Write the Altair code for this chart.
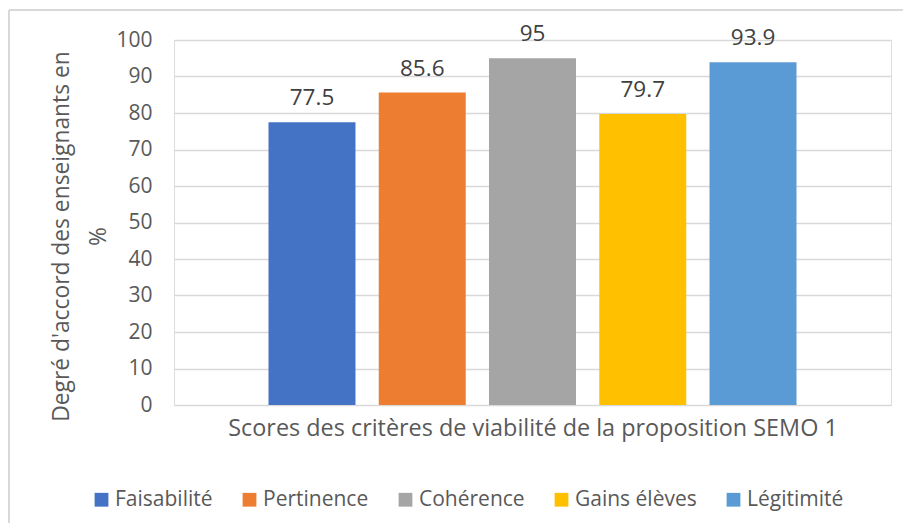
import altair as alt
import pandas as pd

series = ["Faisabilité", "Pertinence", "Cohérence", "Gains élèves", "Légitimité"]
values = [77.5, 85.6, 95, 79.7, 93.9]
labels = ["77.5", "85.6", "95", "79.7", "93.9"]
colors = ["#4472C4", "#ED7D31", "#A5A5A5", "#FFC000", "#5B9BD5"]
y_ticks = [0, 10, 20, 30, 40, 50, 60, 70, 80, 90, 100]

df = pd.DataFrame({"serie": series, "valeur": values, "label": labels})

FONT = "Open Sans"
W, H = 717, 365

x_enc = alt.X(
    "serie:N",
    sort=series,
    scale=alt.Scale(paddingInner=0.211, paddingOuter=0.857),
    axis=alt.Axis(
        labels=False, ticks=False, domain=False, grid=False,
        title="Scores des critères de viabilité de la proposition SEMO 1",
        titleFont=FONT, titleFontSize=23.4, titleFontWeight="normal",
        titleColor="#595959", titleBaseline="alphabetic", titleY=30,
    ),
)

y_axis = alt.Axis(
    values=y_ticks, ticks=False, domain=False,
    labelOverlap=False,
    gridColor="#D9D9D9", gridWidth=1.3,
    labelFont=FONT, labelFontSize=21, labelColor="#595959", labelPadding=22,
    title=["Degré d'accord des enseignants en", "%"],
    titleFont=FONT, titleFontSize=22.8, titleFontWeight="normal",
    titleColor="#595959", titleX=-124, titleY=196, titleAngle=270,
    titleAlign="center", titleBaseline="top", titleLineHeight=37,
)
y_scale = alt.Scale(domain=[0, 100], nice=False)

bars = alt.Chart(df).mark_bar().encode(
    x=x_enc,
    y=alt.Y("valeur:Q", scale=y_scale, axis=y_axis),
    color=alt.Color(
        "serie:N",
        sort=series,
        scale=alt.Scale(domain=series, range=colors),
        legend=alt.Legend(
            title=None, orient="none", legendX=-83, legendY=449,
            direction="horizontal", columns=5, columnPadding=26,
            symbolType="square", symbolSize=190, symbolStrokeWidth=0,
            labelFont=FONT, labelFontSize=21, labelColor="#595959",
            labelOffset=3,
        ),
    ),
)

text = alt.Chart(df).mark_text(
    font=FONT, fontSize=22.5, color="#404040", baseline="alphabetic", dy=-17
).encode(
    x=alt.X("serie:N", sort=series),
    y=alt.Y("valeur:Q", scale=y_scale, axis=y_axis),
    text="label:N",
)

border_top = alt.Chart(df).mark_rule(color="#D9D9D9", strokeWidth=1.5).encode(
    x=alt.value(-165), x2=alt.value(740), y=alt.value(-30)
)
border_left = alt.Chart(df).mark_rule(color="#D9D9D9", strokeWidth=1.5).encode(
    x=alt.value(-165), y=alt.value(-30), y2=alt.value(500)
)

chart = alt.layer(bars, text, border_top, border_left).properties(
    width=W, height=H,
    autosize=alt.AutoSizeParams(type="none"),
    padding={"left": 166, "top": 32, "right": 12, "bottom": 118},
).configure_view(stroke=None).configure(background="white")

chart.save("out.html", embed_options={"renderer": "svg", "actions": False})
